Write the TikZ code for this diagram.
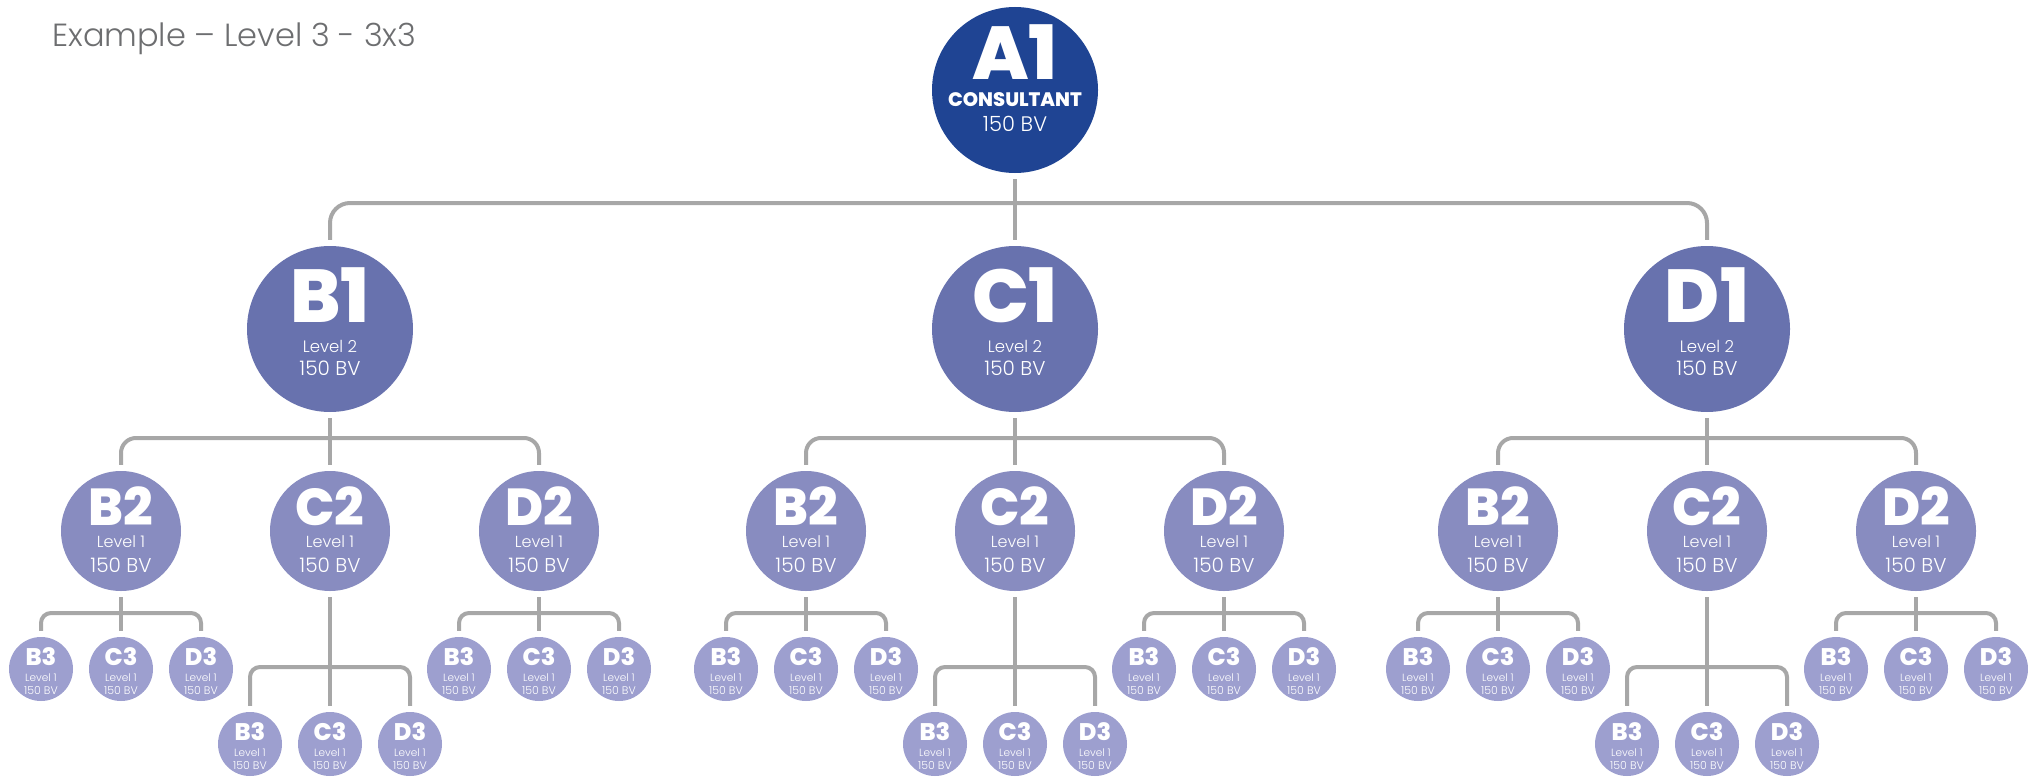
\documentclass[tikz,border=0pt]{standalone}
\usepackage{fontspec}
\setmainfont{Poppins}
\newfontfamily\lightf{Poppins Light}
\newfontfamily\heavyf{Poppins ExtraBold}
\usetikzlibrary{calc}
\definecolor{cA}{HTML}{1F4493}
\definecolor{cL2}{HTML}{6872AE}
\definecolor{cL1}{HTML}{888CC0}
\definecolor{cL3}{HTML}{9D9FCF}
\definecolor{lineg}{HTML}{A7A7A7}
\definecolor{titleg}{HTML}{6D6E70}
\tikzset{
  conn/.style={draw=lineg, line width=4pt, rounded corners=#1, shorten <=6pt, shorten >=6pt},
  conn/.default=15pt,
  disc/.style={circle, inner sep=0pt, draw=none},
  c0/.style={disc, fill=cA, minimum size=166pt},
  c2/.style={disc, fill=cL2, minimum size=166pt},
  c1/.style={disc, fill=cL1, minimum size=120pt},
  c3/.style={disc, fill=cL3, minimum size=64pt},
  txt/.style={inner sep=0pt, text=white, anchor=center},
}
\newcommand\mkzero[4]{%
  \node[c0] (#1) at (#2,#3) {};
  \node[txt, font=\heavyf\fontsize{75}{75}\selectfont] (#1-n) at ($(#1)+(0,-37.5)$) {#4};
  \node[txt, font=\heavyf\fontsize{19.5}{19.5}\selectfont] (#1-l) at ($(#1)+(0,9.5)$) {CONSULTANT};
  \node[txt, font=\lightf\fontsize{21}{21}\selectfont] (#1-v) at ($(#1)+(0,33.5)$) {150 BV};
}
\newcommand\mktwo[4]{%
  \node[c2] (#1) at (#2,#3) {};
  \node[txt, font=\heavyf\fontsize{75}{75}\selectfont] (#1-n) at ($(#1)+(0,-34)$) {#4};
  \node[txt, font=\lightf\fontsize{16.5}{16.5}\selectfont] (#1-l) at ($(#1)+(0,17.5)$) {Level 2};
  \node[txt, font=\lightf\fontsize{20}{20}\selectfont] (#1-v) at ($(#1)+(0,39.5)$) {150 BV};
}
\newcommand\mkone[4]{%
  \node[c1] (#1) at (#2,#3) {};
  \node[txt, font=\heavyf\fontsize{52}{52}\selectfont] (#1-n) at ($(#1)+(0,-25)$) {#4};
  \node[txt, font=\lightf\fontsize{16}{16}\selectfont] (#1-l) at ($(#1)+(0,10.5)$) {Level 1};
  \node[txt, font=\lightf\fontsize{20}{20}\selectfont] (#1-v) at ($(#1)+(0,34)$) {150 BV};
}
\newcommand\mkthree[4]{%
  \node[c3] (#1) at (#2,#3) {};
  \node[txt, font=\heavyf\fontsize{24}{24}\selectfont] (#1-n) at ($(#1)+(0,-12.5)$) {#4};
  \node[txt, font=\lightf\fontsize{10.5}{10.5}\selectfont] (#1-l) at ($(#1)+(0,8.5)$) {Level 1};
  \node[txt, font=\lightf\fontsize{11}{11}\selectfont] (#1-v) at ($(#1)+(0,21.5)$) {150 BV};
}
\begin{document}
\begin{tikzpicture}[x=1pt,y=-1pt]
\useasboundingbox (0,0) rectangle (2028,776);
\node[anchor=base west, inner sep=0pt, text=titleg, font=\lightf\fontsize{32}{32}\selectfont] (title) at (52,47) {Example – Level 3 - 3x3};
\mkzero{A1}{1015}{90}{A1}
\coordinate (bar0) at (1015,203);
\foreach \g/\gx in {B1/330, C1/1015, D1/1707} {
  \mktwo{\g}{\gx}{329}{\g}
  \coordinate (\g-bar) at (\gx,438);
  \foreach \k/\dx/\cy/\by in {B/-209/669/613, C/0/744/667, D/209/669/613} {
    \pgfmathsetmacro\cx{\gx+\dx}
    \mkone{\g\k}{\cx}{531}{\k2}
    \coordinate (\g\k-bar) at (\cx,\by);
    \foreach \m/\ddx in {B/-80, C/0, D/80} {
      \pgfmathsetmacro\mx{\cx+\ddx}
      \mkthree{\g\k-\m}{\mx}{\cy}{\m3}
    }
    \draw[conn=10pt] (\g\k-B.north) |- (\g\k-bar) -| (\g\k-D.north);
    \draw[conn] (\g\k.south) -- (\g\k-C.north);
  }
  \draw[conn=15pt] (\g B.north) |- (\g-bar) -| (\g D.north);
  \draw[conn] (\g.south) -- (\g C.north);
}
\draw[conn=20pt] (B1.north) |- (bar0) -| (D1.north);
\draw[conn] (A1.south) -- (C1.north);
\end{tikzpicture}
\end{document}
